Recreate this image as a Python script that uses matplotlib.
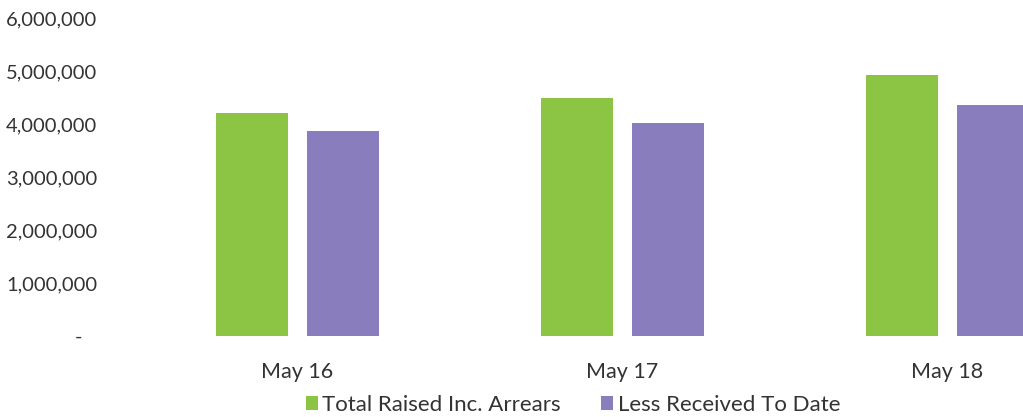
import matplotlib
matplotlib.use("Agg")
import matplotlib.pyplot as plt
from matplotlib.ticker import FixedLocator, FixedFormatter

categories = ["May 16", "May 17", "May 18"]
total_raised = [4210000, 4490000, 4920000]
received = [3870000, 4020000, 4360000]
series_names = ["Total Raised Inc. Arrears", "Less Received To Date"]
y_ticks = [0, 1000000, 2000000, 3000000, 4000000, 5000000, 6000000]
y_labels = ["-   ", "1,000,000", "2,000,000", "3,000,000", "4,000,000", "5,000,000", "6,000,000"]

green = "#8cc443"
purple = "#897dbd"
text_color = "#333333"

plt.rcParams["font.family"] = ["Lato", "DejaVu Sans"]

W, H = 1023, 417
fig = plt.figure(figsize=(W / 100, H / 100), dpi=100)
left_px, right_px = 135, 1110
top_px, bottom_px = 18, 336
ax = fig.add_axes([left_px / W, 1 - bottom_px / H, (right_px - left_px) / W, (bottom_px - top_px) / H])

x = list(range(len(categories)))
bw = 72 / 325
gap = 19 / 325
ax.bar([i - (bw + gap) / 2 for i in x], total_raised, width=bw, color=green, label=series_names[0])
ax.bar([i + (bw + gap) / 2 for i in x], received, width=bw, color=purple, label=series_names[1])

ax.set_xlim(-0.5, len(categories) - 0.5)
ax.set_ylim(0, 6000000)
ax.yaxis.set_major_locator(FixedLocator(y_ticks))
ax.yaxis.set_major_formatter(FixedFormatter(y_labels))
ax.set_xticks(x)
ax.set_xticklabels(categories)
ax.tick_params(axis="y", length=0, pad=27, labelsize=14.5, labelcolor=text_color)
ax.tick_params(axis="x", length=0, pad=19, labelsize=15.5, labelcolor=text_color)
for s in ax.spines.values():
    s.set_visible(False)

fig.legend(loc="center", bbox_to_anchor=(573 / W, 1 - 405 / H), ncol=2, frameon=False,
           fontsize=16, labelcolor=text_color, handlelength=0.55, handleheight=0.55,
           handletextpad=0.2, columnspacing=1.8)

fig.savefig("out.png", dpi=100)
